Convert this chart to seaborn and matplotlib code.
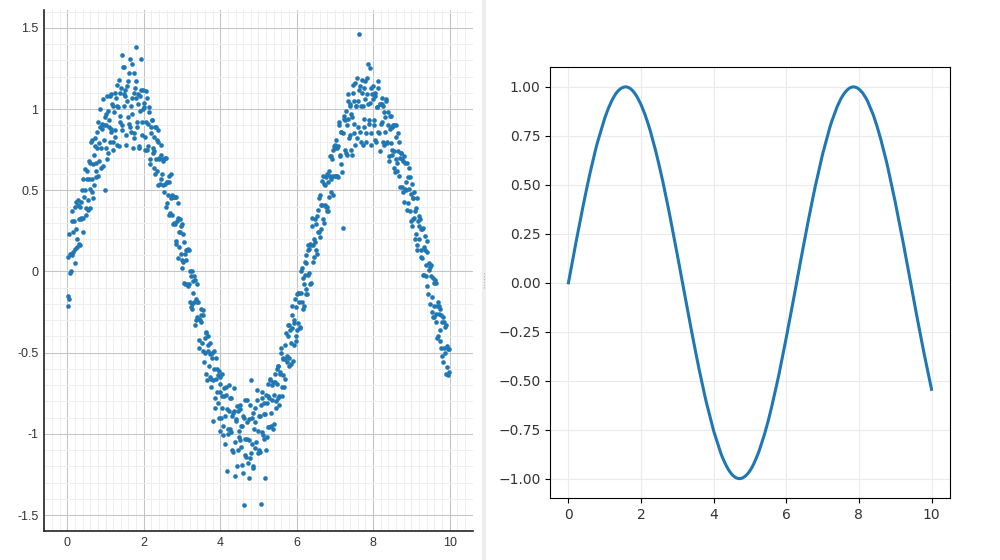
import matplotlib
matplotlib.use("Agg")
import matplotlib.pyplot as plt
import matplotlib.patches as mpatches
from matplotlib.ticker import MultipleLocator, FuncFormatter
import pandas as pd
import seaborn as sns

# noisy samples (left panel)
scatter_x = [
    0.01, 0.03, 0.06, 0.08, 0.11, 0.13, 0.16, 0.19, 0.21, 0.24,
    0.25, 0.27, 0.30, 0.32, 0.35, 0.37, 0.40, 0.42, 0.45, 0.48,
    0.51, 0.54, 0.56, 0.59, 0.62, 0.64, 0.67, 0.68, 0.72, 0.74,
    0.76, 0.78, 0.81, 0.83, 0.86, 0.88, 0.91, 0.94, 0.96, 0.99,
    1.00, 1.02, 1.05, 1.07, 1.10, 1.12, 1.15, 1.17, 1.20, 1.23,
    1.26, 1.29, 1.31, 1.34, 1.37, 1.39, 1.42, 1.43, 1.47, 1.49,
    1.51, 1.53, 1.56, 1.58, 1.61, 1.63, 1.66, 1.69, 1.71, 1.74,
    1.75, 1.77, 1.80, 1.82, 1.85, 1.87, 1.90, 1.92, 1.95, 1.98,
    2.01, 2.04, 2.06, 2.09, 2.12, 2.14, 2.17, 2.18, 2.22, 2.24,
    2.26, 2.28, 2.31, 2.33, 2.36, 2.38, 2.41, 2.44, 2.46, 2.49,
    2.50, 2.52, 2.55, 2.57, 2.60, 2.62, 2.65, 2.67, 2.70, 2.73,
    2.76, 2.79, 2.81, 2.84, 2.87, 2.89, 2.92, 2.93, 2.97, 2.99,
    3.01, 3.03, 3.06, 3.08, 3.11, 3.13, 3.16, 3.19, 3.21, 3.24,
    3.25, 3.27, 3.30, 3.32, 3.35, 3.37, 3.40, 3.42, 3.45, 3.48,
    3.51, 3.54, 3.56, 3.59, 3.62, 3.64, 3.67, 3.68, 3.72, 3.74,
    3.76, 3.78, 3.81, 3.83, 3.86, 3.88, 3.91, 3.94, 3.96, 3.99,
    4.00, 4.02, 4.05, 4.07, 4.10, 4.12, 4.15, 4.17, 4.20, 4.23,
    4.26, 4.29, 4.31, 4.34, 4.37, 4.39, 4.42, 4.43, 4.47, 4.49,
    4.51, 4.53, 4.56, 4.58, 4.61, 4.63, 4.66, 4.69, 4.71, 4.74,
    4.75, 4.77, 4.80, 4.82, 4.85, 4.87, 4.90, 4.92, 4.95, 4.98,
    5.01, 5.04, 5.06, 5.09, 5.12, 5.14, 5.17, 5.18, 5.22, 5.24,
    5.26, 5.28, 5.31, 5.33, 5.36, 5.38, 5.41, 5.44, 5.46, 5.49,
    5.50, 5.52, 5.55, 5.57, 5.60, 5.62, 5.65, 5.67, 5.70, 5.73,
    5.76, 5.79, 5.81, 5.84, 5.87, 5.89, 5.92, 5.93, 5.97, 5.99,
    6.01, 6.03, 6.06, 6.08, 6.11, 6.13, 6.16, 6.19, 6.21, 6.24,
    6.25, 6.27, 6.30, 6.32, 6.35, 6.37, 6.40, 6.42, 6.45, 6.48,
    6.51, 6.54, 6.56, 6.59, 6.62, 6.64, 6.67, 6.68, 6.72, 6.74,
    6.76, 6.78, 6.81, 6.83, 6.86, 6.88, 6.91, 6.94, 6.96, 6.99,
    7.00, 7.02, 7.05, 7.07, 7.10, 7.12, 7.15, 7.17, 7.20, 7.23,
    7.26, 7.29, 7.31, 7.34, 7.37, 7.39, 7.42, 7.43, 7.47, 7.49,
    7.51, 7.53, 7.56, 7.58, 7.61, 7.63, 7.66, 7.69, 7.71, 7.74,
    7.75, 7.77, 7.80, 7.82, 7.85, 7.87, 7.90, 7.92, 7.95, 7.98,
    8.01, 8.04, 8.06, 8.09, 8.12, 8.14, 8.17, 8.18, 8.22, 8.24,
    8.26, 8.28, 8.31, 8.33, 8.36, 8.38, 8.41, 8.44, 8.46, 8.49,
    8.50, 8.52, 8.55, 8.57, 8.60, 8.62, 8.65, 8.67, 8.70, 8.73,
    8.76, 8.79, 8.81, 8.84, 8.87, 8.89, 8.92, 8.93, 8.97, 8.99,
    9.01, 9.03, 9.06, 9.08, 9.11, 9.13, 9.16, 9.19, 9.21, 9.24,
    9.25, 9.27, 9.30, 9.32, 9.35, 9.37, 9.40, 9.42, 9.45, 9.48,
    9.51, 9.54, 9.56, 9.59, 9.62, 9.64, 9.67, 9.68, 9.72, 9.74,
    9.76, 9.78, 9.81, 9.83, 9.86, 9.88, 9.91, 9.94, 9.96, 9.99,
    # second batch
    0.005, 0.035, 0.055, 0.085, 0.105, 0.135, 0.155, 0.185, 0.205, 0.235,
    0.255, 0.285, 0.305, 0.335, 0.355, 0.385, 0.405, 0.435, 0.455, 0.485,
    0.505, 0.535, 0.555, 0.585, 0.605, 0.635, 0.655, 0.685, 0.705, 0.735,
    0.755, 0.785, 0.805, 0.835, 0.855, 0.885, 0.905, 0.935, 0.955, 0.985,
    1.005, 1.035, 1.055, 1.085, 1.105, 1.135, 1.155, 1.185, 1.205, 1.235,
    1.255, 1.285, 1.305, 1.335, 1.355, 1.385, 1.405, 1.435, 1.455, 1.485,
    1.505, 1.535, 1.555, 1.585, 1.605, 1.635, 1.655, 1.685, 1.705, 1.735,
    1.755, 1.785, 1.805, 1.835, 1.855, 1.885, 1.905, 1.935, 1.955, 1.985,
    2.005, 2.035, 2.055, 2.085, 2.105, 2.135, 2.155, 2.185, 2.205, 2.235,
    2.255, 2.285, 2.305, 2.335, 2.355, 2.385, 2.405, 2.435, 2.455, 2.485,
    2.505, 2.535, 2.555, 2.585, 2.605, 2.635, 2.655, 2.685, 2.705, 2.735,
    2.755, 2.785, 2.805, 2.835, 2.855, 2.885, 2.905, 2.935, 2.955, 2.985,
    3.005, 3.035, 3.055, 3.085, 3.105, 3.135, 3.155, 3.185, 3.205, 3.235,
    3.255, 3.285, 3.305, 3.335, 3.355, 3.385, 3.405, 3.435, 3.455, 3.485,
    3.505, 3.535, 3.555, 3.585, 3.605, 3.635, 3.655, 3.685, 3.705, 3.735,
    3.755, 3.785, 3.805, 3.835, 3.855, 3.885, 3.905, 3.935, 3.955, 3.985,
    4.005, 4.035, 4.055, 4.085, 4.105, 4.135, 4.155, 4.185, 4.205, 4.235,
    4.255, 4.285, 4.305, 4.335, 4.355, 4.385, 4.405, 4.435, 4.455, 4.485,
    4.505, 4.535, 4.555, 4.585, 4.605, 4.635, 4.655, 4.685, 4.705, 4.735,
    4.755, 4.785, 4.805, 4.835, 4.855, 4.885, 4.905, 4.935, 4.955, 4.985,
    5.005, 5.035, 5.055, 5.085, 5.105, 5.135, 5.155, 5.185, 5.205, 5.235,
    5.255, 5.285, 5.305, 5.335, 5.355, 5.385, 5.405, 5.435, 5.455, 5.485,
    5.505, 5.535, 5.555, 5.585, 5.605, 5.635, 5.655, 5.685, 5.705, 5.735,
    5.755, 5.785, 5.805, 5.835, 5.855, 5.885, 5.905, 5.935, 5.955, 5.985,
    6.005, 6.035, 6.055, 6.085, 6.105, 6.135, 6.155, 6.185, 6.205, 6.235,
    6.255, 6.285, 6.305, 6.335, 6.355, 6.385, 6.405, 6.435, 6.455, 6.485,
    6.505, 6.535, 6.555, 6.585, 6.605, 6.635, 6.655, 6.685, 6.705, 6.735,
    6.755, 6.785, 6.805, 6.835, 6.855, 6.885, 6.905, 6.935, 6.955, 6.985,
    7.005, 7.035, 7.055, 7.085, 7.105, 7.135, 7.155, 7.185, 7.205, 7.235,
    7.255, 7.285, 7.305, 7.335, 7.355, 7.385, 7.405, 7.435, 7.455, 7.485,
    7.505, 7.535, 7.555, 7.585, 7.605, 7.635, 7.655, 7.685, 7.705, 7.735,
    7.755, 7.785, 7.805, 7.835, 7.855, 7.885, 7.905, 7.935, 7.955, 7.985,
    8.005, 8.035, 8.055, 8.085, 8.105, 8.135, 8.155, 8.185, 8.205, 8.235,
    8.255, 8.285, 8.305, 8.335, 8.355, 8.385, 8.405, 8.435, 8.455, 8.485,
    8.505, 8.535, 8.555, 8.585, 8.605, 8.635, 8.655, 8.685, 8.705, 8.735,
    8.755, 8.785, 8.805, 8.835, 8.855, 8.885, 8.905, 8.935, 8.955, 8.985,
    9.005, 9.035, 9.055, 9.085, 9.105, 9.135, 9.155, 9.185, 9.205, 9.235,
    9.255, 9.285, 9.305, 9.335, 9.355, 9.385, 9.405, 9.435, 9.455, 9.485,
    9.505, 9.535, 9.555, 9.585, 9.605, 9.635, 9.655, 9.685, 9.705, 9.735,
    9.755, 9.785, 9.805, 9.835, 9.855, 9.885, 9.905, 9.935, 9.955, 9.985,
]
scatter_y = [
    -0.21, -0.15, 0.11, -0.01, 0.31, 0.10, 0.24, 0.05, 0.40, 0.26,
    0.15, 0.41, 0.32, 0.16, 0.43, 0.32, 0.57, 0.33, 0.50, 0.35,
    0.57, 0.38, 0.68, 0.51, 0.80, 0.49, 0.66, 0.45, 0.77, 0.67,
    0.62, 0.86, 0.59, 0.79, 1.00, 0.76, 0.91, 0.65, 0.90, 0.50,
    0.97, 0.76, 1.08, 0.73, 0.93, 1.08, 0.86, 1.03, 0.75, 0.98,
    0.83, 1.15, 1.02, 0.77, 1.10, 0.96, 1.33, 0.90, 1.09, 1.26,
    1.08, 0.84, 1.14, 0.95, 1.22, 0.89, 1.02, 1.28, 0.76, 1.10,
    0.85, 1.13, 1.38, 0.89, 1.03, 0.77, 1.08, 1.31, 0.92, 1.12,
    1.01, 0.75, 0.92, 1.07, 0.77, 0.98, 0.66, 0.89, 0.93, 0.76,
    0.83, 0.64, 0.89, 0.69, 0.80, 0.53, 0.70, 0.78, 0.57, 0.68,
    0.53, 0.69, 0.54, 0.70, 0.42, 0.55, 0.35, 0.55, 0.45, 0.35,
    0.46, 0.30, 0.46, 0.19, 0.31, 0.42, 0.15, 0.24, 0.28, 0.02,
    0.07, 0.23, -0.07, 0.11, 0.13, -0.08, 0.14, -0.08, 0.00, -0.22,
    0.00, -0.20, -0.13, -0.03, -0.33, -0.17, -0.28, -0.19, -0.47, -0.30,
    -0.31, -0.49, -0.27, -0.50, -0.38, -0.63, -0.49, -0.40, -0.65, -0.51,
    -0.66, -0.50, -0.92, -0.60, -0.78, -0.53, -0.74, -0.64, -0.90, -0.74,
    -0.69, -0.90, -0.77, -1.01, -0.72, -0.89, -0.71, -1.23, -0.97, -0.86,
    -0.78, -0.99, -0.89, -1.11, -0.86, -1.26, -0.91, -0.83, -1.10, -0.98,
    -1.04, -0.85, -1.19, -0.95, -1.44, -0.90, -1.13, -0.79, -1.03, -1.27,
    -0.91, -1.15, -0.67, -1.06, -0.87, -1.21, -0.93, -1.09, -0.79, -0.98,
    -1.10, -0.89, -1.43, -0.78, -1.01, -0.81, -1.27, -0.88, -1.02, -0.69,
    -0.77, -0.96, -0.67, -0.87, -0.70, -0.97, -0.76, -0.63, -0.84, -0.69,
    -0.78, -0.58, -0.82, -0.62, -0.50, -0.71, -0.53, -0.71, -0.54, -0.38,
    -0.40, -0.53, -0.33, -0.57, -0.35, -0.21, -0.45, -0.32, -0.43, -0.22,
    -0.36, -0.13, -0.19, -0.34, 0.00, -0.19, -0.04, -0.21, -0.02, 0.10,
    0.05, -0.14, 0.16, -0.01, 0.17, -0.07, 0.33, 0.16, 0.09, 0.32,
    0.13, 0.34, 0.24, 0.45, 0.21, 0.41, 0.56, 0.32, 0.54, 0.41,
    0.58, 0.40, 0.55, 0.37, 0.71, 0.59, 0.49, 0.75, 0.59, 0.76,
    0.59, 0.81, 0.59, 0.77, 0.90, 0.71, 0.86, 0.66, 0.27, 0.94,
    0.93, 0.73, 0.90, 1.05, 0.82, 1.03, 0.75, 0.97, 1.15, 0.91,
    0.85, 1.16, 1.02, 0.82, 1.05, 1.46, 1.14, 0.80, 1.10, 1.02,
    1.13, 0.89, 1.06, 0.80, 1.19, 1.03, 0.93, 1.25, 0.85, 1.09,
    0.93, 1.10, 0.81, 1.01, 1.13, 0.86, 1.03, 0.74, 1.03, 0.92,
    1.02, 0.78, 0.95, 1.06, 0.80, 0.90, 0.71, 0.96, 0.79, 0.89,
    0.72, 0.90, 0.74, 0.61, 0.83, 0.67, 0.85, 0.59, 0.70, 0.73,
    0.69, 0.49, 0.71, 0.51, 0.55, 0.38, 0.58, 0.64, 0.37, 0.48,
    0.28, 0.45, 0.33, 0.49, 0.23, 0.39, 0.13, 0.28, 0.34, 0.13,
    0.26, 0.08, 0.27, -0.02, 0.13, 0.04, 0.19, -0.09, 0.05, -0.20,
    -0.03, -0.25, -0.04, -0.21, -0.05, -0.31, -0.21, -0.41, -0.21, -0.36,
    -0.43, -0.27, -0.52, -0.28, -0.47, -0.34, -0.63, -0.46, -0.64, -0.48,
    # second batch
    0.09, -0.17, 0.23, 0.11, 0.00, 0.37, 0.12, 0.31, 0.14, 0.43,
    0.20, 0.44, 0.17, 0.40, 0.33, 0.50, 0.24, 0.46, 0.63, 0.39,
    0.62, 0.44, 0.57, 0.39, 0.67, 0.57, 0.81, 0.53, 0.72, 0.82,
    0.58, 0.76, 0.92, 0.68, 0.89, 0.64, 0.88, 1.06, 0.81, 0.95,
    0.90, 0.69, 0.99, 0.89, 0.80, 1.09, 0.88, 1.02, 0.80, 1.10,
    0.87, 1.07, 0.78, 1.01, 1.18, 0.92, 1.13, 0.87, 1.26, 1.02,
    1.12, 0.78, 1.05, 1.17, 0.91, 1.31, 0.86, 1.07, 0.97, 1.22,
    0.82, 1.07, 1.17, 0.92, 1.09, 0.76, 0.99, 1.12, 0.84, 1.00,
    1.04, 0.83, 1.11, 0.75, 0.91, 1.01, 0.69, 0.85, 0.93, 0.73,
    0.74, 0.89, 0.60, 0.81, 0.62, 0.87, 0.69, 0.54, 0.72, 0.60,
    0.69, 0.49, 0.70, 0.40, 0.55, 0.47, 0.59, 0.36, 0.60, 0.47,
    0.29, 0.46, 0.29, 0.46, 0.17, 0.33, 0.08, 0.24, 0.32, 0.11,
    0.29, 0.06, 0.18, -0.08, 0.07, 0.13, -0.09, 0.13, -0.19, -0.03,
    -0.23, -0.06, -0.19, -0.05, -0.30, -0.19, -0.08, -0.42, -0.29, -0.23,
    -0.27, -0.44, -0.24, -0.56, -0.41, -0.37, -0.67, -0.45, -0.58, -0.44,
    -0.71, -0.53, -0.67, -0.49, -0.84, -0.66, -0.60, -0.81, -0.61, -0.98,
    -0.65, -0.84, -0.63, -0.95, -0.77, -1.06, -0.76, -0.85, -1.00, -0.70,
    -0.97, -0.78, -1.10, -0.87, -0.72, -1.05, -0.92, -1.20, -0.86, -1.02,
    -0.82, -1.08, -0.95, -1.24, -0.89, -1.03, -0.79, -1.14, -0.93, -1.18,
    -1.04, -0.82, -1.12, -0.90, -1.20, -0.97, -0.84, -1.05, -0.73, -1.12,
    -0.89, -1.11, -0.82, -0.99, -0.74, -1.03, -0.88, -0.76, -1.10, -0.81,
    -0.96, -0.78, -0.66, -0.95, -0.79, -0.68, -0.94, -0.68, -0.80, -0.60,
    -0.58, -0.77, -0.63, -0.47, -0.77, -0.54, -0.64, -0.45, -0.66, -0.52,
    -0.56, -0.33, -0.58, -0.36, -0.44, -0.27, -0.55, -0.30, -0.17, -0.40,
    -0.14, -0.32, -0.13, -0.35, -0.13, 0.02, -0.23, -0.08, 0.06, -0.11,
    -0.14, 0.13, -0.02, 0.14, -0.08, 0.16, 0.28, 0.06, 0.20, 0.18,
    0.29, 0.11, 0.38, 0.24, 0.47, 0.26, 0.41, 0.59, 0.30, 0.53,
    0.40, 0.60, 0.37, 0.62, 0.46, 0.71, 0.57, 0.69, 0.47, 0.77,
    0.78, 0.59, 0.76, 0.58, 0.92, 0.72, 0.86, 0.61, 0.85, 0.96,
    0.75, 0.99, 0.72, 0.94, 1.09, 0.84, 1.02, 0.72, 0.95, 1.10,
    1.05, 0.78, 1.02, 1.19, 0.89, 1.12, 0.86, 1.02, 1.18, 0.78,
    0.94, 1.17, 0.85, 1.09, 1.28, 0.91, 1.04, 0.78, 1.13, 1.06,
    1.14, 0.90, 1.08, 0.80, 1.01, 1.17, 0.85, 1.03, 0.91, 1.07,
    0.80, 0.98, 0.86, 1.05, 0.79, 0.98, 0.68, 0.88, 0.96, 0.75,
    0.89, 0.64, 0.90, 0.69, 0.90, 0.62, 0.74, 0.80, 0.52, 0.73,
    0.52, 0.68, 0.43, 0.67, 0.50, 0.67, 0.42, 0.51, 0.58, 0.31,
    0.54, 0.32, 0.45, 0.20, 0.37, 0.45, 0.16, 0.31, 0.20, 0.32,
    0.09, 0.26, -0.02, 0.15, 0.22, -0.03, 0.12, -0.14, 0.01, 0.03,
    0.04, -0.16, -0.28, -0.07, -0.28, -0.07, -0.26, -0.19, -0.40, -0.26,
    -0.23, -0.47, -0.31, -0.56, -0.31, -0.50, -0.33, -0.59, -0.48, -0.62,
]

# smooth curve (right panel)
line_x = [0.0, 0.2, 0.25, 0.4, 0.5, 0.6, 0.75, 0.8, 1.0, 1.1, 1.2, 1.25, 1.3, 1.35,
          1.4, 1.45, 1.5, 1.55, 1.6, 1.65, 1.7, 1.75, 1.8, 1.85, 1.9, 2.0, 2.1,
          2.2, 2.25, 2.4, 2.5, 2.6, 2.75, 2.8, 3.0, 3.2, 3.25, 3.4, 3.5, 3.6,
          3.75, 3.8, 4.0, 4.2, 4.25, 4.3, 4.35, 4.4, 4.45, 4.5, 4.55, 4.6, 4.65,
          4.7, 4.75, 4.8, 4.85, 4.9, 4.95, 5.0, 5.05, 5.1, 5.2, 5.25, 5.4, 5.5,
          5.6, 5.75, 5.8, 6.0, 6.2, 6.25, 6.4, 6.5, 6.6, 6.75, 6.8, 7.0, 7.2,
          7.25, 7.4, 7.5, 7.55, 7.6, 7.65, 7.7, 7.75, 7.8, 7.85, 7.9, 7.95,
          8.0, 8.1, 8.2, 8.25, 8.4, 8.5, 8.6, 8.75, 8.8, 9.0, 9.2, 9.25, 9.4,
          9.5, 9.6, 9.75, 9.8, 10.0]
line_y = [0.000, 0.199, 0.247, 0.389, 0.479, 0.565, 0.682, 0.717, 0.841, 0.891,
          0.932, 0.949, 0.964, 0.976, 0.985, 0.993, 0.997, 1.000, 1.000, 0.997,
          0.992, 0.984, 0.974, 0.961, 0.946, 0.909, 0.863, 0.808, 0.778, 0.675,
          0.598, 0.516, 0.382, 0.335, 0.141, -0.058, -0.108, -0.256, -0.351,
          -0.443, -0.572, -0.612, -0.757, -0.872, -0.895, -0.916, -0.935,
          -0.952, -0.966, -0.978, -0.987, -0.994, -0.998, -1.000, -0.999,
          -0.996, -0.990, -0.982, -0.972, -0.959, -0.944, -0.926, -0.883,
          -0.859, -0.773, -0.706, -0.631, -0.508, -0.465, -0.279, -0.083,
          -0.033, 0.117, 0.215, 0.312, 0.450, 0.494, 0.657, 0.794, 0.823,
          0.899, 0.938, 0.954, 0.968, 0.979, 0.988, 0.995, 0.999, 1.000,
          0.999, 0.995, 0.989, 0.970, 0.941, 0.922, 0.855, 0.798, 0.734,
          0.625, 0.585, 0.412, 0.223, 0.174, 0.025, -0.075, -0.175, -0.319,
          -0.366, -0.544]

blue = "#1f77b4"

fig = plt.figure(figsize=(10, 5.6), dpi=100)

# ---- left panel: scatter
ax1 = fig.add_axes([0.044, 0.0513, 0.4293, 0.9308])
df_pts = pd.DataFrame({"x": scatter_x, "y": scatter_y})
sns.scatterplot(ax=ax1, data=df_pts, x="x", y="y", color=blue, s=11,
                linewidth=0, zorder=3)
ax1.set_xlim(-0.61, 10.62)
ax1.set_ylim(-1.60, 1.61)
ax1.xaxis.set_major_locator(MultipleLocator(2))
ax1.yaxis.set_major_locator(MultipleLocator(0.5))
ax1.xaxis.set_minor_locator(MultipleLocator(0.2))
ax1.yaxis.set_minor_locator(MultipleLocator(0.1))
ax1.grid(True, which="minor", color="#eeeeee", linewidth=0.7, zorder=0)
ax1.grid(True, which="major", color="#c4c4c4", linewidth=0.75, zorder=0)
for xv in [1, 3, 5, 7, 9]:
    ax1.axvline(xv, color="#dcdcdc", linewidth=0.75, zorder=0.5)
ax1.set_axisbelow(True)
ax1.yaxis.set_major_formatter(FuncFormatter(lambda v, p: f"{v:g}"))
ax1.xaxis.set_major_formatter(FuncFormatter(lambda v, p: f"{v:g}"))
ax1.tick_params(which="both", length=0, labelsize=9, labelcolor="#333333", pad=4)
for lab in ax1.get_xticklabels() + ax1.get_yticklabels():
    lab.set_family("Liberation Sans")
for side in ["top", "right"]:
    ax1.spines[side].set_visible(False)
for side in ["left", "bottom"]:
    ax1.spines[side].set_color("#222222")
    ax1.spines[side].set_linewidth(1.2)
ax1.set_xlabel("")
ax1.set_ylabel("")

# divider between the two panels
fig.patches.append(mpatches.Rectangle((0.4817, 0), 0.0043, 1, transform=fig.transFigure,
                                      facecolor="#eeeeee", edgecolor="none"))
fig.lines.append(plt.Line2D([0.4838, 0.4838], [0.485, 0.515], transform=fig.transFigure,
                            color="#b0b0b0", linewidth=0.8, linestyle=(0, (1, 1.5))))

# ---- right panel: line
ax2 = fig.add_axes([0.5503, 0.1103, 0.3994, 0.7695])
df_line = pd.DataFrame({"x": line_x, "y": line_y})
sns.lineplot(ax=ax2, data=df_line, x="x", y="y", color=blue, linewidth=2.2)
ax2.grid(True, color="#ebebeb", linewidth=0.8)
ax2.set_axisbelow(True)
ax2.set_yticks([-1.0, -0.75, -0.5, -0.25, 0.0, 0.25, 0.5, 0.75, 1.0])
ax2.set_xticks([0, 2, 4, 6, 8, 10])
ax2.tick_params(labelsize=10, labelcolor="#333333")
ax2.set_xlabel("")
ax2.set_ylabel("")

fig.savefig("out.png", dpi=100)
